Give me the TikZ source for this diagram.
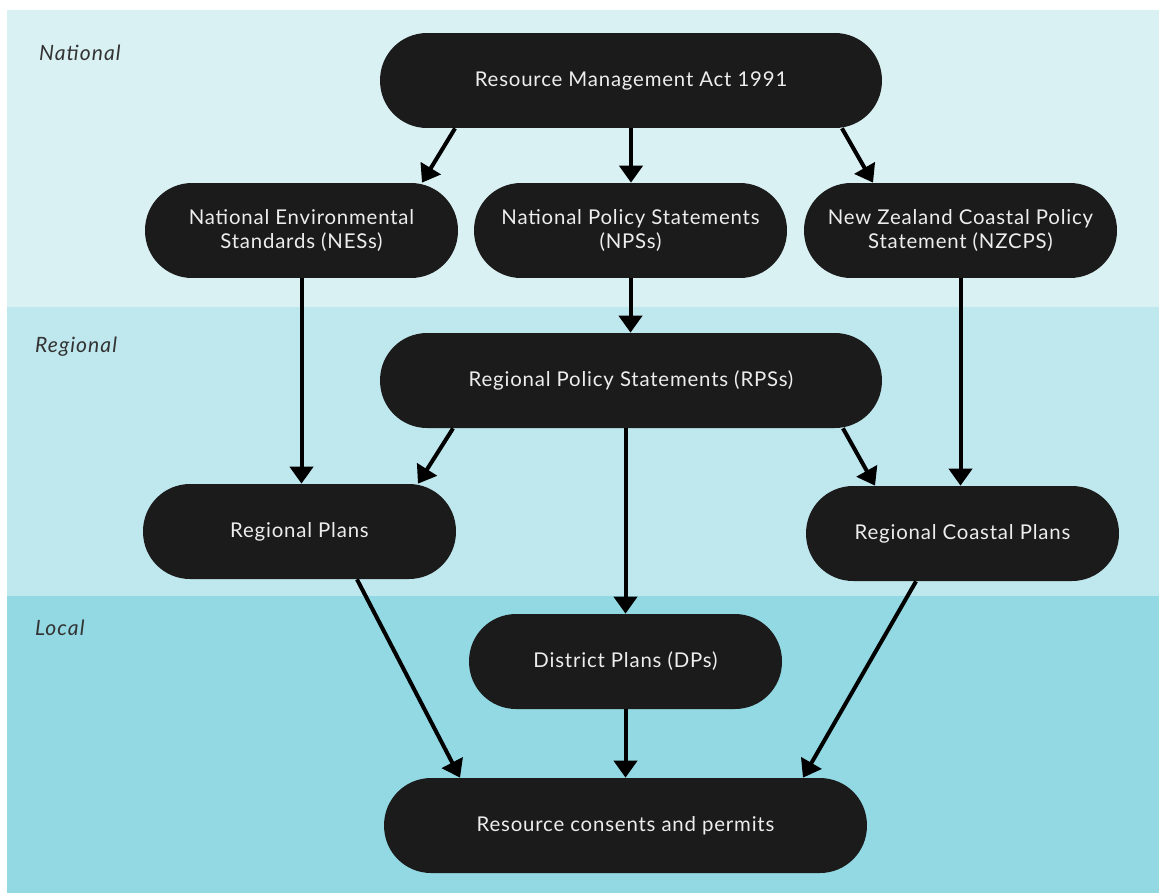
\documentclass[tikz,border=0pt]{standalone}
\usepackage{fontspec}
\setmainfont{Lato}
\newfontfamily\boxfont{Lato}[LetterSpace=4]
\newfontfamily\lvlfont{Lato}[LetterSpace=5]
\usetikzlibrary{arrows.meta}

\definecolor{national}{HTML}{DAF1F4}
\definecolor{regional}{HTML}{BFE7EE}
\definecolor{local}{HTML}{92D9E4}
\definecolor{boxfill}{HTML}{1B1B1B}
\definecolor{boxtext}{HTML}{EDEDED}
\definecolor{lvltext}{HTML}{333333}

\tikzset{
  box/.style = {fill = boxfill, text = boxtext, rounded corners = 0.94cm,
    minimum width = 6.26cm, minimum height = 1.9cm, align = center,
    font = \boxfont\fontsize{11.6}{13.6}\selectfont},
  widebox/.style = {box, minimum width = 10.04cm},
  arr/.style = {-{Triangle[width = 0.46cm, length = 0.34cm]}, line width = 0.08cm},
  lvl/.style = {anchor = west, text = lvltext, font = \lvlfont\itshape\fontsize{12}{14}\selectfont}
}

\begin{document}
\begin{tikzpicture}[x = 0.02cm, y = -0.02cm]
    \useasboundingbox (0, 0) rectangle (1159, 893);

    % the three levels
    \foreach \ytop/\ybot/\col in {10/307/national, 307/596/regional, 596/893/local} {
      \fill [\col] (7, \ytop) rectangle (1159, \ybot);
    }
    \node [lvl] (national) at (33, 53) {National};
    \node [lvl] (regional) at (29, 347) {Regional};
    \node [lvl] (local) at (29, 628) {Local};

    \node [widebox] (rma) at (631, 80.5) {Resource Management Act 1991};
    \node [box] (nes) at (301.5, 230.5) {National Environmental\\Standards (NESs)};
    \node [box] (nps) at (630.5, 230.5) {National Policy Statements\\(NPSs)};
    \node [box] (nzcps) at (960.5, 230.5) {New Zealand Coastal Policy\\Statement (NZCPS)};
    \node [widebox] (rps) at (631, 380.5) {Regional Policy Statements (RPSs)};
    \node [box] (rp) at (299.5, 531.5) {Regional Plans};
    \node [box] (rcp) at (962.5, 533.5) {Regional Coastal Plans};
    \node [box] (dp) at (625.5, 661.5) {District Plans (DPs)};
    \node [box, minimum width = 9.66cm] (rc) at (625.5, 825.5) {Resource consents and permits};

    \draw [arr] ([xshift = -3.52cm] rma.south) -- ([xshift = 2.41cm] nes.north);
    \draw [arr] (rma.south) -- (rma.south |- nps.north);
    \draw [arr] ([xshift = 4.22cm] rma.south) -- ([xshift = -1.75cm] nzcps.north);
    \draw [arr] (nes.south) -- (nes.south |- rp.north);
    \draw [arr] (nps.south) -- (nps.south |- rps.north);
    \draw [arr] (nzcps.south) -- (nzcps.south |- rcp.north);
    \draw [arr] ([xshift = -3.56cm] rps.south) -- ([xshift = 2.37cm] rp.north);
    \draw [arr] (dp.north |- rps.south) -- (dp.north);
    \draw [arr] ([xshift = 4.24cm] rps.south) -- ([xshift = -1.75cm] rcp.north);
    \draw [arr] ([xshift = 1.15cm] rp.south) -- ([xshift = -3.31cm] rc.north);
    \draw [arr] (dp.south) -- (rc.north -| dp.south);
    \draw [arr] ([xshift = -0.93cm] rcp.south) -- ([xshift = 3.55cm] rc.north);
\end{tikzpicture}
\end{document}
